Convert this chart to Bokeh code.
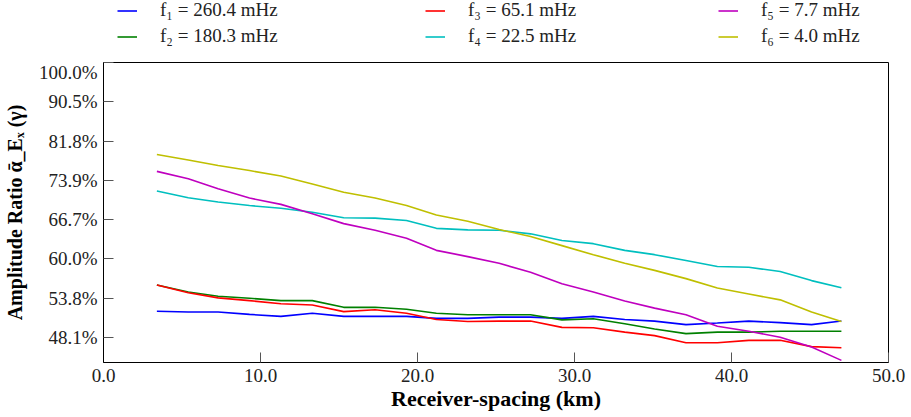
from bokeh.plotting import figure
from bokeh.layouts import column
from bokeh.models import (Range1d, FixedTicker, CustomJSTickFormatter, Legend,
                          LegendItem, PrintfTickFormatter)
from bokeh.embed import file_html
from bokeh.resources import INLINE

# Receiver spacing (km)
x_km = [3.4, 5.4, 7.3, 9.3, 11.3, 13.3, 15.3, 17.3, 19.3, 21.2, 23.2, 25.2,
        27.2, 29.2, 31.2, 33.2, 35.1, 37.1, 39.1, 41.1, 43.1, 45.1, 47.0]

# Values in the axis' gamma units (0.0 -> 100.0%, 0.1 per labelled step)
f1 = [0.633, 0.635, 0.635, 0.641, 0.646, 0.638, 0.646, 0.646, 0.646, 0.651, 0.651, 0.648,
      0.648, 0.651, 0.646, 0.654, 0.658, 0.667, 0.663, 0.658, 0.662, 0.667, 0.658]
f2 = [0.566, 0.584, 0.595, 0.600, 0.606, 0.606, 0.623, 0.623, 0.628, 0.638, 0.642, 0.642,
      0.642, 0.655, 0.652, 0.665, 0.678, 0.690, 0.686, 0.686, 0.684, 0.684, 0.684]
f3 = [0.566, 0.586, 0.599, 0.606, 0.614, 0.617, 0.634, 0.629, 0.638, 0.654, 0.659, 0.658,
      0.658, 0.674, 0.675, 0.686, 0.695, 0.713, 0.713, 0.707, 0.707, 0.723, 0.726]
f4 = [0.327, 0.344, 0.355, 0.364, 0.371, 0.381, 0.395, 0.396, 0.402, 0.422, 0.426, 0.427,
      0.436, 0.453, 0.461, 0.478, 0.489, 0.504, 0.519, 0.521, 0.532, 0.555, 0.573]
f5 = [0.277, 0.296, 0.321, 0.345, 0.361, 0.385, 0.410, 0.427, 0.447, 0.478, 0.494, 0.511,
      0.534, 0.563, 0.584, 0.607, 0.625, 0.642, 0.671, 0.684, 0.699, 0.724, 0.758]
f6 = [0.234, 0.248, 0.262, 0.275, 0.289, 0.309, 0.330, 0.345, 0.364, 0.388, 0.404, 0.425,
      0.443, 0.466, 0.489, 0.511, 0.529, 0.550, 0.574, 0.589, 0.604, 0.635, 0.659]

series_labels = ["f\u2081 = 260.4 mHz", "f\u2082 = 180.3 mHz", "f\u2083 = 65.1 mHz",
                 "f\u2084 = 22.5 mHz", "f\u2085 = 7.7 mHz", "f\u2086 = 4.0 mHz"]
series_colors = ["#0000ff", "#008000", "#ff0000", "#00bfbf", "#bf00bf", "#bfbf00"]
series_values = [f1, f2, f3, f4, f5, f6]

x_ticks = [0, 10, 20, 30, 40, 50]
y_ticks = [0.0, 0.1, 0.2, 0.3, 0.4, 0.5, 0.6, 0.7]
y_tick_labels = ["100.0%", "90.5%", "81.8%", "73.9%", "66.7%", "60.0%", "53.8%", "48.1%"]

FONT = "Liberation Serif"

# ---- main plot ----
p = figure(width=911, height=356, x_range=Range1d(0, 50), y_range=Range1d(0.7634, 0.0),
           output_backend="svg", toolbar_location=None,
           min_border_left=103, min_border_right=23, min_border_top=1, min_border_bottom=55)

p.xgrid.visible = False
p.ygrid.visible = False
p.outline_line_color = "black"
p.outline_line_width = 1
p.background_fill_color = "white"
p.border_fill_color = "white"

for ax in (p.xaxis[0], p.yaxis[0]):
    ax.major_tick_in = 10
    ax.major_tick_out = 0
    ax.minor_tick_line_color = None
    ax.axis_line_color = "black"
    ax.major_tick_line_color = "#555555"
    ax.major_label_text_font = FONT
    ax.major_label_text_font_size = "19px"
    ax.major_label_text_color = "#222222"
    ax.axis_label_text_font = FONT
    ax.axis_label_text_font_style = "bold"
    ax.axis_label_text_color = "black"

p.xaxis.ticker = FixedTicker(ticks=x_ticks)
p.xaxis.formatter = PrintfTickFormatter(format="%.1f")
p.xaxis.major_label_standoff = 6
p.xaxis.axis_label = "Receiver-spacing (km)"
p.xaxis.axis_label_text_font_size = "22px"
p.xaxis.axis_label_standoff = 1

p.yaxis.ticker = FixedTicker(ticks=y_ticks)
p.yaxis.formatter = CustomJSTickFormatter(args=dict(labels=y_tick_labels),
                                          code="return labels[Math.round(tick*10)];")
p.yaxis.major_label_standoff = 6
p.yaxis.axis_label = "Amplitude Ratio \u1fb1_E\u2093 (\u03b3)"
p.yaxis.axis_label_text_font_size = "20px"
p.yaxis.axis_label_standoff = 10

for ys, col in zip(series_values, series_colors):
    p.line(x_km, ys, line_color=col, line_width=1.6)

# ---- legend strip above the plot (series drawn off-screen, only keys show) ----
top = figure(width=911, height=61, x_range=Range1d(100, 101), y_range=Range1d(0, 1),
             output_backend="svg", toolbar_location=None,
             x_axis_location=None, y_axis_location=None, min_border=0)
top.xgrid.visible = False
top.ygrid.visible = False
top.outline_line_color = None

keys = []
for ys, lab, col in zip(series_values, series_labels, series_colors):
    r = top.line(x_km, ys, line_color=col, line_width=1.6)
    keys.append(LegendItem(label=lab, renderers=[r]))

# offsets are relative to the (column-aligned) plot frame
for i, x0 in enumerate([14, 322, 615]):
    lg = Legend(items=keys[2 * i:2 * i + 2], orientation="vertical",
                location=(x0, 14), padding=0, margin=0, spacing=4,
                glyph_width=20, glyph_height=19, label_standoff=23,
                label_text_font=FONT, label_text_font_size="19px",
                label_text_color="#222222",
                border_line_color=None, background_fill_alpha=0)
    top.add_layout(lg)

layout = column(top, p, spacing=0)
open("out.html", "w").write(file_html(layout, INLINE))
